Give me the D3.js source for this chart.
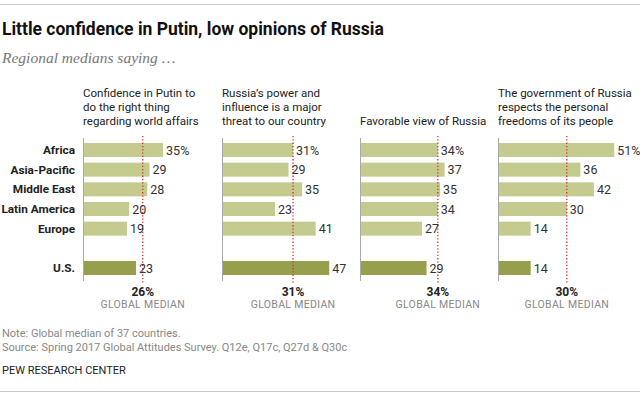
<!DOCTYPE html>
<meta charset="utf-8">
<script src="https://d3js.org/d3.v7.min.js"></script>
<style>
  body { margin: 0; background: #fff; }
  text { font-family: Roboto, 'Liberation Sans', sans-serif; }
</style>
<body>
<div id="chart"></div>
<script>

// regions, top to bottom ("" is the gap row before U.S.)
var regions = ["Africa", "Asia-Pacific", "Middle East", "Latin America", "Europe", "", "U.S."];

var headers = [
  ["Confidence in Putin to", "do the right thing", "regarding world affairs"],
  ["Russia\u2019s power and", "influence is a major", "threat to our country"],
  ["Favorable view of Russia"],
  ["The government of Russia", "respects the personal", "freedoms of its people"]
];

// values per panel, same order as regions (without the gap)
var putinValues   = [35, 29, 28, 20, 19, 23];
var threatValues  = [31, 29, 35, 23, 41, 47];
var favorValues   = [34, 37, 35, 34, 27, 29];
var freedomValues = [51, 36, 42, 30, 14, 14];

var globalMedians = [26, 31, 34, 30];

var panels = [putinValues, threatValues, favorValues, freedomValues];
var rowNames = regions.filter(function(d) { return d !== ""; });

var width = 640, height = 398;

var svg = d3.select("#chart")
  .append("svg")
    .attr("width", width)
    .attr("height", height);

// top and bottom rules
svg.append("line").attr("x1", 0).attr("x2", width).attr("y1", 4.5).attr("y2", 4.5)
  .style("stroke", "#c8c8c8");
svg.append("line").attr("x1", 0).attr("x2", width).attr("y1", 391.5).attr("y2", 391.5)
  .style("stroke", "#c8c8c8");

// title + subtitle
svg.append("text").attr("x", 2).attr("y", 35)
  .text("Little confidence in Putin, low opinions of Russia")
  .style("font-size", "17.5px").style("font-weight", "bold").style("fill", "#111");
svg.append("text").attr("x", 2).attr("y", 63)
  .text("Regional medians saying \u2026")
  .style("font-family", "'Liberation Serif', serif")
  .style("font-style", "italic").style("font-size", "15.5px").style("fill", "#777");

// row positions
var y = d3.scalePoint()
  .domain(regions)
  .range([150, 268]);

var barH = 14;

// one x scale for all panels
var x = d3.scaleLinear()
  .domain([0, 100])
  .range([0, 226]);

var panelX = [84, 223, 361, 499];

// row labels
svg.append("g")
  .selectAll("text")
  .data(rowNames)
  .enter()
  .append("text")
    .attr("x", 75)
    .attr("y", function(d) { return y(d); })
    .attr("dy", "0.35em")
    .attr("text-anchor", "end")
    .style("font-size", "11.8px")
    .style("font-weight", "bold")
    .style("fill", "#222")
    .text(function(d) { return d; });

panels.forEach(function(vals, i) {
  var g = svg.append("g").attr("transform", "translate(" + panelX[i] + ",0)");
  var data = rowNames.map(function(r, j) { return {region: r, value: vals[j]}; });

  // header
  var lines = headers[i];
  g.append("g").selectAll("text")
    .data(lines)
    .enter()
    .append("text")
      .attr("x", -1)
      .attr("y", function(d, k) { return 125 - (lines.length - 1 - k) * 13.8; })
      .style("font-size", "11.5px")
      .style("fill", "#222")
      .text(function(d) { return d; });

  // bars
  g.append("g").selectAll("rect")
    .data(data)
    .enter()
    .append("rect")
      .attr("x", 0)
      .attr("y", function(d) { return y(d.region) - barH / 2; })
      .attr("width", function(d) { return x(d.value); })
      .attr("height", barH)
      .style("fill", function(d) { return d.region === "U.S." ? "#989f4c" : "#c5cb8f"; });

  // baseline axis
  g.append("line")
    .attr("x1", -0.5).attr("x2", -0.5)
    .attr("y1", 138).attr("y2", 281)
    .style("stroke", "#aaa");

  // global median line
  var m = globalMedians[i];
  g.append("line")
    .attr("x1", x(m)).attr("x2", x(m))
    .attr("y1", 136).attr("y2", 284)
    .style("stroke", "#d0312d")
    .style("stroke-width", 1.3)
    .style("stroke-dasharray", "1.3,2");

  // value labels
  g.append("g").selectAll("text")
    .data(data)
    .enter()
    .append("text")
      .attr("x", function(d) { return x(d.value) + 3; })
      .attr("y", function(d) { return y(d.region); })
      .attr("dy", "0.36em")
      .style("font-size", "12.5px")
      .style("fill", "#333")
      .text(function(d, k) { return k === 0 ? d.value + "%" : d.value; });

  // median labels
  g.append("text")
    .attr("x", x(m))
    .attr("y", 296)
    .attr("text-anchor", "middle")
    .style("font-size", "12px")
    .style("font-weight", "bold")
    .style("fill", "#222")
    .text(m + "%");
  g.append("text")
    .attr("x", x(m))
    .attr("y", 308)
    .attr("text-anchor", "middle")
    .style("font-size", "10.5px")
    .style("letter-spacing", "0.3px")
    .style("fill", "#888")
    .text("GLOBAL MEDIAN");
});

// notes
svg.append("text").attr("x", 2).attr("y", 337)
  .text("Note: Global median of 37 countries.")
  .style("font-size", "11px").style("fill", "#888");
svg.append("text").attr("x", 2).attr("y", 351)
  .text("Source: Spring 2017 Global Attitudes Survey. Q12e, Q17c, Q27d & Q30c")
  .style("font-size", "11px").style("fill", "#888");
svg.append("text").attr("x", 2).attr("y", 374)
  .text("PEW RESEARCH CENTER")
  .style("font-size", "11px").style("fill", "#222");

</script>
</body>
